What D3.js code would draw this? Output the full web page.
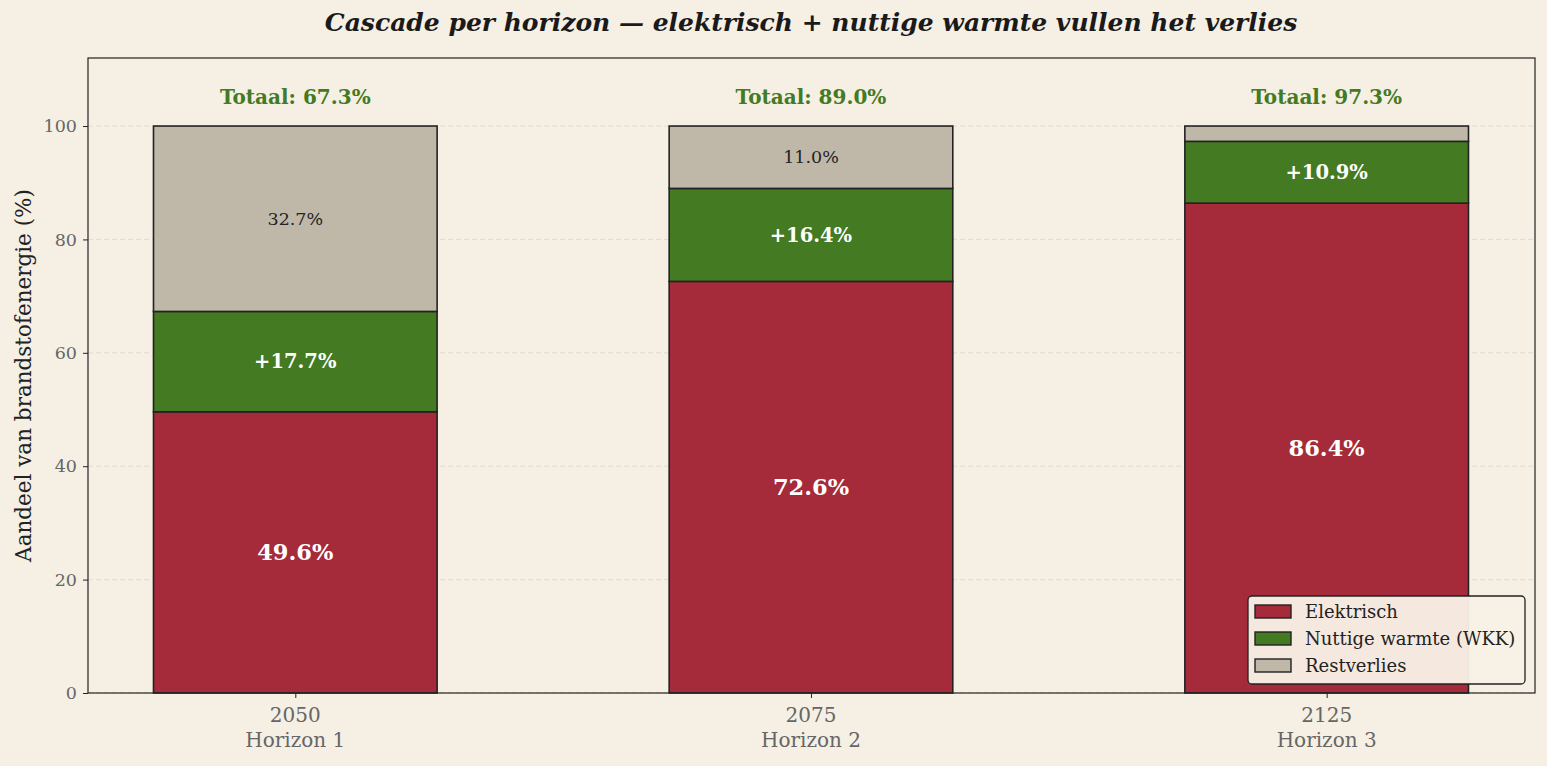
<!DOCTYPE html>
<html><head><meta charset="utf-8">
<script src="https://cdn.jsdelivr.net/npm/d3@7"></script>
<style>body{margin:0;background:#F5EFE4;} svg{display:block;}</style>
</head><body>
<svg id="c" width="1547" height="766"></svg>
<script>
const years = ["2050","2075","2125"];
const horizons = ["Horizon 1","Horizon 2","Horizon 3"];
const elektrisch = [49.6, 72.6, 86.4];
const warmte = [17.7, 16.4, 10.9];
const restverlies = [32.7, 11.0, 2.7];
const yTicks = [0,20,40,60,80,100];
const seriesNames = ["Elektrisch","Nuttige warmte (WKK)","Restverlies"];
const colors = ["#A52A3A","#437A22","#BFB8A9"];

const svg = d3.select("#c");
const font = "DejaVu Serif, serif";
const L=88, R=1535, T=58, B=693;
const x = d3.scaleLinear().domain([-0.402, 2.404]).range([L,R]);
const y = d3.scaleLinear().domain([0,112]).range([B,T]);
const bw = 0.55;

svg.append("rect").attr("width",1547).attr("height",766).attr("fill","#F5EFE4");

// grid
svg.append("g").selectAll("line").data(yTicks).join("line")
  .attr("x1",L).attr("x2",R).attr("y1",d=>y(d)).attr("y2",d=>y(d))
  .attr("stroke","#E2DCCF").attr("stroke-width",1).attr("stroke-dasharray","5,3");

// bars
const stack = years.map((yr,i)=>[
  {s:0, y0:0, y1:elektrisch[i]},
  {s:1, y0:elektrisch[i], y1:elektrisch[i]+warmte[i]},
  {s:2, y0:elektrisch[i]+warmte[i], y1:elektrisch[i]+warmte[i]+restverlies[i]}
]);
years.forEach((yr,i)=>{
  const g = svg.append("g");
  g.selectAll("rect").data(stack[i]).join("rect")
    .attr("x", x(i-bw/2)).attr("width", x(i+bw/2)-x(i-bw/2))
    .attr("y", d=>y(d.y1)).attr("height", d=>y(d.y0)-y(d.y1))
    .attr("fill", d=>colors[d.s]).attr("stroke","#222").attr("stroke-width",1.6);
  const e = stack[i][0], w = stack[i][1], r = stack[i][2];
  g.append("text").attr("x",x(i)).attr("y",y((e.y0+e.y1)/2)).attr("dy","0.35em")
    .attr("text-anchor","middle").attr("font-family",font).attr("font-weight","bold")
    .attr("font-size",22.5).attr("fill","#fff").text(elektrisch[i].toFixed(1)+"%");
  g.append("text").attr("x",x(i)).attr("y",y((w.y0+w.y1)/2)).attr("dy","0.35em")
    .attr("text-anchor","middle").attr("font-family",font).attr("font-weight","bold")
    .attr("font-size",19.5).attr("fill","#fff").text("+"+warmte[i].toFixed(1)+"%");
  if (restverlies[i] > 5) {
    g.append("text").attr("x",x(i)).attr("y",y((r.y0+r.y1)/2)).attr("dy","0.35em")
      .attr("text-anchor","middle").attr("font-family",font)
      .attr("font-size",17.5).attr("fill","#222").text(restverlies[i].toFixed(1)+"%");
  }
  g.append("text").attr("x",x(i)).attr("y",y(105.1)).attr("dy","0.35em")
    .attr("text-anchor","middle").attr("font-family",font).attr("font-weight","bold")
    .attr("font-size",20).attr("fill","#437A22").text("Totaal: "+(elektrisch[i]+warmte[i]).toFixed(1)+"%");
});

// frame
svg.append("rect").attr("x",L).attr("y",T).attr("width",R-L).attr("height",B-T)
  .attr("fill","none").attr("stroke","#222").attr("stroke-width",1.2);

// y axis
const ya = svg.append("g").attr("transform",`translate(${L},0)`)
  .call(d3.axisLeft(y).tickValues(yTicks).tickSize(5).tickPadding(6));
ya.select(".domain").remove();
ya.selectAll("line").attr("stroke","#222");
ya.selectAll("text").attr("font-family",font).attr("font-size",17.5).attr("fill","#666");

// x axis
const xa = svg.append("g").attr("transform",`translate(0,${B})`)
  .call(d3.axisBottom(x).tickValues([0,1,2]).tickSize(5).tickFormat(""));
xa.select(".domain").remove();
xa.selectAll("line").attr("stroke","#222");
years.forEach((yr,i)=>{
  svg.append("text").attr("x",x(i)).attr("y",722).attr("text-anchor","middle")
    .attr("font-family",font).attr("font-size",20).attr("fill","#666").text(yr);
  svg.append("text").attr("x",x(i)).attr("y",747).attr("text-anchor","middle")
    .attr("font-family",font).attr("font-size",20).attr("fill","#666").text(horizons[i]);
});

// y label
svg.append("text").attr("transform",`translate(31,${(T+B)/2+0}) rotate(-90)`)
  .attr("text-anchor","middle").attr("font-family",font).attr("font-size",21.5)
  .attr("fill","#222").text("Aandeel van brandstofenergie (%)");

// title
svg.append("text").attr("x",811).attr("y",31).attr("text-anchor","middle")
  .attr("font-family",font).attr("font-weight","bold").attr("font-style","italic")
  .attr("font-size",25).attr("fill","#1a1a1a")
  .text("Cascade per horizon — elektrisch + nuttige warmte vullen het verlies");

// legend
const lg = svg.append("g").attr("transform","translate(1248,596)");
lg.append("rect").attr("width",277).attr("height",88).attr("rx",4)
  .attr("fill","#F8F0E6").attr("fill-opacity",0.96).attr("stroke","#222").attr("stroke-width",1.3);
seriesNames.forEach((n,i)=>{
  lg.append("rect").attr("x",7).attr("y",9+i*27).attr("width",36).attr("height",13)
    .attr("fill",colors[i]).attr("stroke","#222").attr("stroke-width",1.4);
  lg.append("text").attr("x",57).attr("y",15.5+i*27).attr("dy","0.35em")
    .attr("font-family",font).attr("font-size",18).attr("fill","#222").text(n);
});
</script>
</body></html>
